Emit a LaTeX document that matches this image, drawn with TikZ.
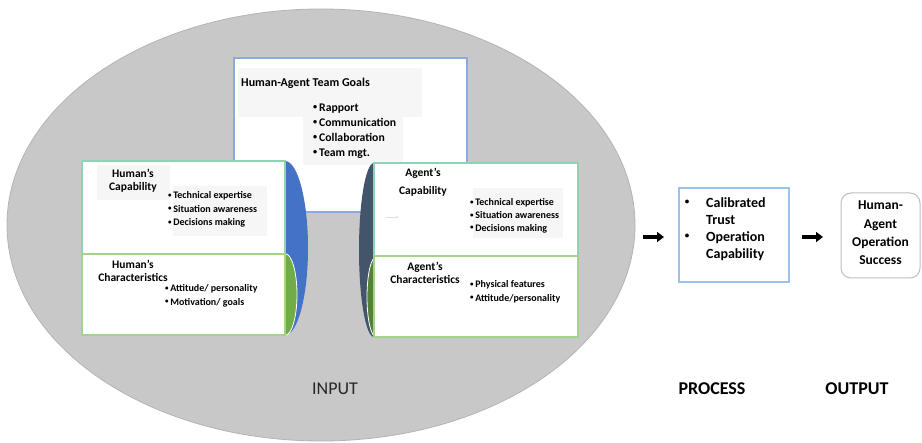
\documentclass[tikz,border=0pt]{standalone}
\usepackage{fontspec}
\usepackage{graphicx}
\setmainfont{Carlito}
\usetikzlibrary{arrows.meta}
\definecolor{ellgray}{HTML}{C8C8C8}
\definecolor{ellline}{HTML}{B4B4B4}
\definecolor{goalblue}{HTML}{8EA9DB}
\definecolor{hblue}{HTML}{4472C4}
\definecolor{hgreen}{HTML}{70AD47}
\definecolor{aslate}{HTML}{44546A}
\definecolor{agreen}{HTML}{548235}
\definecolor{capborder}{HTML}{8ED3B3}
\definecolor{charborder}{HTML}{A3D48A}
\definecolor{procborder}{HTML}{9CC2EA}
\definecolor{outborder}{HTML}{BFBFBF}
\definecolor{faint}{HTML}{F6F6F6}
\newcommand\smbul{\raisebox{0.12em}{\scalebox{0.7}{\textbullet}}\,}
\tikzset{
  panel/.style={draw, line width=1.2pt, fill=white, inner sep=0pt},
  faintbg/.style={fill=faint, draw=none, inner sep=0pt},
  headtxt/.style={font=\fontsize{11.5}{13}\selectfont\bfseries, align=center, inner sep=0pt},
  bullettxt/.style={font=\fontsize{10}{13.3}\selectfont\bfseries, align=left, inner sep=0pt, anchor=north west},
  bigtxt/.style={font=\fontsize{14}{17}\selectfont\bfseries, align=left, inner sep=0pt},
  stagetxt/.style={font=\fontsize{18}{20}\selectfont, inner sep=0pt},
  fatarrow/.style={line width=3.5pt, -{Triangle[length=7pt,width=10pt]}}
}
\begin{document}
\begin{tikzpicture}[x=1pt,y=-1pt]
\useasboundingbox (0,0) rectangle (922,443);
\fill[white] (0,0) rectangle (922,443);
% big input ellipse
\draw[fill=ellgray, draw=ellline, line width=0.8pt] (321,225) ellipse [x radius=314, y radius=216];
\coordinate (ell) at (321,225);

% team goals box
\node[panel, draw=goalblue, minimum width=233pt, minimum height=154pt] (goals) at (350.5,135) {};
\node[faintbg, minimum width=184pt, minimum height=49pt] (goalsbg1) at (330,92.5) {};
\node[faintbg, minimum width=100pt, minimum height=48pt] (goalsbg2) at (353,141) {};
\node[font=\fontsize{12}{14}\selectfont\bfseries, inner sep=0pt, anchor=west] (goalstitle) at (241,83) {Human-Agent Team Goals};
\node[font=\fontsize{11.7}{15}\selectfont\bfseries, align=left, inner sep=0pt, anchor=north west] (goalslist) at (313,103.5)
  {\smbul Rapport\\ \smbul Communication\\ \smbul Collaboration\\ \smbul Team mgt.};

% human crescents
\fill[hblue] (285,248) ellipse [x radius=23, y radius=87];
\draw[fill=hgreen, draw=white, line width=0.8pt] (285,294.5) ellipse [x radius=12, y radius=41];
% agent crescents
\fill[aslate] (374,250) ellipse [x radius=15, y radius=87];
\draw[fill=agreen, draw=white, line width=0.8pt] (376,297) ellipse [x radius=9, y radius=40];

% human boxes
\node[panel, draw=capborder, minimum width=203pt, minimum height=93pt] (hcap) at (183.5,207.5) {};
\node[panel, draw=charborder, minimum width=203pt, minimum height=81pt] (hchar) at (183.5,294.5) {};
\node[faintbg, minimum width=73pt, minimum height=35pt] (hcapbg1) at (133.5,182.5) {};
\node[faintbg, minimum width=94pt, minimum height=50pt] (hcapbg2) at (220,211) {};
\node[headtxt] (hcaphead) at (133,181) {Human's\\Capability};
\node[bullettxt] (hcaplist) at (168,191.5) {\smbul Technical expertise\\ \smbul Situation awareness\\ \smbul Decisions making};
\node[headtxt] (hcharhead) at (133,270.5) {Human's\\Characteristics};
\node[bullettxt] (hcharlist) at (165,284.5) {\smbul Attitude/ personality\\ \smbul Motivation/ goals};

% agent boxes
\node[panel, draw=capborder, minimum width=204pt, minimum height=93pt] (acap) at (476,209.5) {};
\node[panel, draw=charborder, minimum width=204pt, minimum height=81pt] (achar) at (476,296.5) {};
\node[faintbg, minimum width=90pt, minimum height=50pt] (acapbg) at (518,213) {};
\node[headtxt, font=\fontsize{11.5}{18}\selectfont\bfseries] (acaphead) at (423,182.5) {Agent's\\Capability};
\node[bullettxt, font=\fontsize{10}{12.7}\selectfont\bfseries] (acaplist) at (470,198.5) {\smbul Technical expertise\\ \smbul Situation awareness\\ \smbul Decisions making};
\node[headtxt] (acharhead) at (425,273) {Agent's\\Characteristics};
\node[bullettxt] (acharlist) at (470,280.5) {\smbul Physical features\\ \smbul Attitude/personality};
\coordinate (fa1) at (386,217);
\coordinate (fa2) at (399,217);
\draw[gray!25, line width=0.6pt, -{Stealth[length=3pt]}] (fa1) -- (fa2);

% process box
\node[panel, draw=procborder, line width=1.3pt, minimum width=110pt, minimum height=94pt] (proc) at (734,235) {};
\node[font=\fontsize{9}{10}\selectfont\bfseries, inner sep=0pt] (pb1) at (687,202) {\textbullet};
\node[font=\fontsize{9}{10}\selectfont\bfseries, inner sep=0pt] (pb2) at (687,236) {\textbullet};
\node[bigtxt, anchor=north west] (ptext) at (706,197) {Calibrated\\Trust\\Operation\\Capability};

% output box
\node[draw=outborder, line width=1pt, fill=white, rounded corners=10pt, minimum width=79pt, minimum height=85pt, inner sep=0pt] (out) at (880.5,235.5) {};
\node[font=\fontsize{13.5}{18.3}\selectfont\bfseries, align=center, inner sep=0pt] (outtext) at (880.5,233) {Human-\\Agent\\Operation\\Success};

% arrows
\coordinate (a1s) at (643,237);
\coordinate (a1e) at (664,237);
\coordinate (a2s) at (802,237);
\coordinate (a2e) at (823,237);
\draw[fatarrow] (a1s) -- (a1e);
\draw[fatarrow] (a2s) -- (a2e);

% stage labels
\node[stagetxt, text=black!85] (input) at (335,389) {INPUT};
\node[stagetxt, font=\fontsize{18}{20}\selectfont\bfseries] (process) at (712,389) {PROCESS};
\node[stagetxt, font=\fontsize{18}{20}\selectfont\bfseries] (output) at (857,389) {OUTPUT};
\end{tikzpicture}
\end{document}
